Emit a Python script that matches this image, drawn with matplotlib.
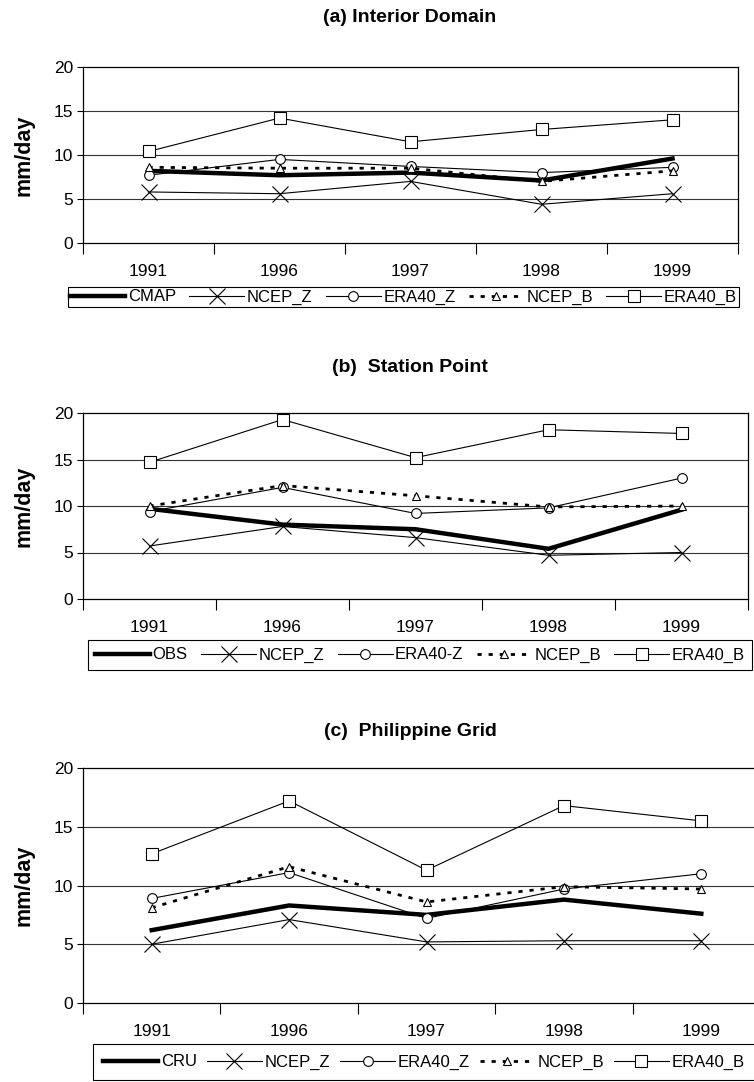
import matplotlib
matplotlib.use("Agg")
import matplotlib.pyplot as plt
import numpy as np

plt.rcParams['font.family'] = ['Liberation Sans Narrow', 'Liberation Sans', 'DejaVu Sans']

years = ["1991", "1996", "1997", "1998", "1999"]

# (a) Interior Domain
a_cmap = [8.2, 7.7, 8.0, 7.1, 9.6]
a_ncep_z = [5.8, 5.6, 7.0, 4.4, 5.6]
a_era_z = [7.7, 9.5, 8.7, 8.0, 8.6]
a_ncep_b = [8.6, 8.5, 8.5, 7.0, 8.2]
a_era_b = [10.4, 14.2, 11.5, 12.9, 14.0]

# (b) Station Point
b_obs = [9.7, 8.0, 7.5, 5.4, 9.6]
b_ncep_z = [5.7, 7.8, 6.6, 4.7, 5.0]
b_era_z = [9.4, 12.0, 9.2, 9.8, 13.0]
b_ncep_b = [10.0, 12.2, 11.1, 9.9, 10.0]
b_era_b = [14.7, 19.3, 15.2, 18.2, 17.8]

# (c) Philippine Grid
c_cru = [6.2, 8.3, 7.5, 8.8, 7.6]
c_ncep_z = [5.0, 7.1, 5.2, 5.3, 5.3]
c_era_z = [8.9, 11.1, 7.2, 9.7, 11.0]
c_ncep_b = [8.1, 11.6, 8.6, 9.9, 9.7]
c_era_b = [12.7, 17.2, 11.3, 16.8, 15.5]

panels = [
    dict(title="(a) Interior Domain",
         series=[("CMAP", a_cmap), ("NCEP_Z", a_ncep_z), ("ERA40_Z", a_era_z),
                 ("NCEP_B", a_ncep_b), ("ERA40_B", a_era_b)],
         rect=(83, 67, 738, 243), title_y=17, leg=(403.5, 297), bpad=0.15, cs=0.8),
    dict(title="(b)  Station Point",
         series=[("OBS", b_obs), ("NCEP_Z", b_ncep_z), ("ERA40-Z", b_era_z),
                 ("NCEP_B", b_ncep_b), ("ERA40_B", b_era_b)],
         rect=(83, 413, 748, 599), title_y=368, leg=(420, 655), bpad=0.45, cs=0.8),
    dict(title="(c)  Philippine Grid",
         series=[("CRU", c_cru), ("NCEP_Z", c_ncep_z), ("ERA40_Z", c_era_z),
                 ("NCEP_B", c_ncep_b), ("ERA40_B", c_era_b)],
         rect=(83, 768, 770, 1003), title_y=731, leg=(424, 1062), bpad=0.65, cs=0.6),
]

W, H = 754, 1082
fig = plt.figure(figsize=(W / 100, H / 100), dpi=100)

styles = [
    dict(color="black", lw=3.2, marker=None),
    dict(color="black", lw=0.8, marker="x", ms=11, mew=0.8, mfc="none"),
    dict(color="black", lw=0.8, marker="o", ms=7, mew=0.8, mfc="white"),
    dict(color="black", lw=2.0, marker="^", ms=6, mew=0.8, mfc="white",
         linestyle=(0, (1.5, 2.5))),
    dict(color="black", lw=0.8, marker="s", ms=8.5, mew=0.8, mfc="white"),
]

x = np.arange(len(years))
for p in panels:
    l, t, r, b = p["rect"]
    ax = fig.add_axes([l / W, 1 - b / H, (r - l) / W, (b - t) / H])
    handles = []
    for (name, vals), st in zip(p["series"], styles):
        st = dict(st)
        ls = st.pop("linestyle", "-")
        h, = ax.plot(x, vals, linestyle=ls, label=name, zorder=3, **st)
        handles.append(h)
    ax.set_xlim(-0.5, len(years) - 0.5)
    ax.set_ylim(0, 20)
    ax.set_yticks([0, 5, 10, 15, 20])
    for yv in [5, 10, 15]:
        ax.axhline(yv, color="#333333", lw=0.8, zorder=1)
    ax.set_xticks(np.arange(-0.5, len(years), 1.0))
    ax.set_xticklabels([])
    ax.set_xticks(x, minor=True)
    ax.set_xticklabels(years, minor=True)
    ax.tick_params(axis="x", which="major", direction="out", length=8, width=0.8)
    ax.tick_params(axis="x", which="minor", length=0, pad=15, labelsize=12.5)
    ax.tick_params(axis="y", direction="out", length=4, width=0.8, pad=3, labelsize=12.5)
    for s in ax.spines.values():
        s.set_linewidth(0.9)
    ax.set_ylabel("mm/day", fontsize=15.5, fontweight="bold",
                  family=["Liberation Sans", "DejaVu Sans"], labelpad=14)
    fig.text(410 / W, 1 - p["title_y"] / H, p["title"], ha="center", va="center",
             fontsize=14, fontweight="bold",
             family=["Liberation Sans", "DejaVu Sans"])
    cx, cy = p["leg"]
    leg = ax.legend(handles=handles, loc="center", ncol=5,
                    bbox_to_anchor=(cx / W, 1 - cy / H), bbox_transform=fig.transFigure,
                    fontsize=12, frameon=True, fancybox=False, edgecolor="black",
                    handlelength=3.3, handletextpad=0.15, columnspacing=p["cs"],
                    borderpad=p["bpad"], borderaxespad=0, framealpha=1)
    leg.get_frame().set_linewidth(0.8)

fig.savefig("out.png", dpi=100)
